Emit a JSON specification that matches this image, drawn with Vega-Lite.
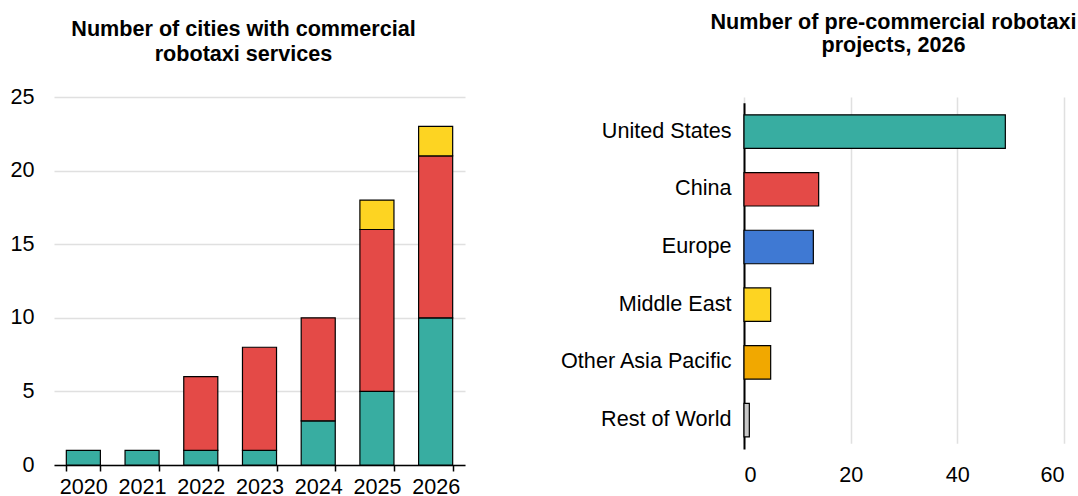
{
  "$schema": "https://vega.github.io/schema/vega-lite/v6.json",
  "background": "white",
  "padding": {"left": 9, "top": 12, "right": 0, "bottom": 0},
  "bounds": "flush",
  "spacing": 279,
  "config": {
    "font": "Liberation Sans",
    "view": {"stroke": null},
    "axis": {"labelFont": "Liberation Sans", "labelFontSize": 21.6, "labelColor": "#000000"},
    "title": {"font": "Liberation Sans", "fontSize": 21.6, "fontWeight": "bold", "color": "#000000"}
  },
  "datasets": {
    "cities": [
      {"year": "2020", "region": "United States", "rank": 1, "count": 1},
      {"year": "2021", "region": "United States", "rank": 1, "count": 1},
      {"year": "2022", "region": "United States", "rank": 1, "count": 1},
      {"year": "2022", "region": "China", "rank": 2, "count": 5},
      {"year": "2023", "region": "United States", "rank": 1, "count": 1},
      {"year": "2023", "region": "China", "rank": 2, "count": 7},
      {"year": "2024", "region": "United States", "rank": 1, "count": 3},
      {"year": "2024", "region": "China", "rank": 2, "count": 7},
      {"year": "2025", "region": "United States", "rank": 1, "count": 5},
      {"year": "2025", "region": "China", "rank": 2, "count": 11},
      {"year": "2025", "region": "Middle East", "rank": 3, "count": 2},
      {"year": "2026", "region": "United States", "rank": 1, "count": 10},
      {"year": "2026", "region": "China", "rank": 2, "count": 11},
      {"year": "2026", "region": "Middle East", "rank": 3, "count": 2}
    ],
    "projects": [
      {"region": "United States", "projects": 49},
      {"region": "China", "projects": 14},
      {"region": "Europe", "projects": 13},
      {"region": "Middle East", "projects": 5},
      {"region": "Other Asia Pacific", "projects": 5},
      {"region": "Rest of World", "projects": 1}
    ]
  },
  "hconcat": [
    {
      "width": 411,
      "height": 368,
      "title": {
        "text": ["Number of cities with commercial", "robotaxi services"],
        "anchor": "middle",
        "dx": -16,
        "lineHeight": 25,
        "baseline": "alphabetic",
        "offset": 3.5
      },
      "data": {"name": "cities"},
      "mark": {"type": "bar", "stroke": "#000000", "strokeWidth": 1.2},
      "encoding": {
        "x": {
          "field": "year",
          "type": "ordinal",
          "scale": {"paddingInner": 0.42, "paddingOuter": 0.21},
          "axis": {
            "title": null,
            "labelAngle": 0,
            "domainColor": "#000000",
            "domainWidth": 1.5,
            "tickColor": "#000000",
            "tickWidth": 1.5,
            "tickSize": 6,
            "tickBand": "extent",
            "labelPadding": 5,
            "grid": false
          }
        },
        "y": {
          "field": "count",
          "type": "quantitative",
          "stack": "zero",
          "scale": {"domain": [0, 25]},
          "axis": {
            "title": null,
            "values": [0, 5, 10, 15, 20, 25],
            "domain": false,
            "ticks": false,
            "labelPadding": 20,
            "gridColor": "#e0e0e0",
            "gridWidth": 1.5
          }
        },
        "color": {
          "field": "region",
          "type": "nominal",
          "scale": {
            "domain": ["United States", "China", "Europe", "Middle East", "Other Asia Pacific", "Rest of World"],
            "range": ["#38ADA1", "#E44A47", "#3F79D3", "#FDD422", "#F1A800", "#C8C8C8"]
          },
          "legend": null
        },
        "order": {"field": "rank", "type": "quantitative", "sort": "ascending"}
      }
    },
    {
      "width": 320,
      "height": 352,
      "title": {
        "text": ["Number of pre-commercial robotaxi", "projects, 2026"],
        "anchor": "middle",
        "dx": -10.5,
        "lineHeight": 23,
        "baseline": "alphabetic",
        "offset": 23
      },
      "data": {"name": "projects"},
      "mark": {"type": "bar", "stroke": "#000000", "strokeWidth": 1.2},
      "encoding": {
        "y": {
          "field": "region",
          "type": "nominal",
          "sort": null,
          "scale": {"range": [5.7, 352], "paddingInner": 0.42, "paddingOuter": 0.21},
          "axis": {
            "title": null,
            "domainColor": "#000000",
            "domainWidth": 2,
            "ticks": false,
            "labelPadding": 13,
            "grid": false
          }
        },
        "x": {
          "field": "projects",
          "type": "quantitative",
          "scale": {"domain": [0, 60]},
          "axis": {
            "title": null,
            "values": [0, 20, 40, 60],
            "domain": false,
            "ticks": false,
            "labelPadding": 15,
            "gridColor": "#e0e0e0",
            "gridWidth": 1.5
          }
        },
        "color": {
          "field": "region",
          "type": "nominal",
          "scale": {
            "domain": ["United States", "China", "Europe", "Middle East", "Other Asia Pacific", "Rest of World"],
            "range": ["#38ADA1", "#E44A47", "#3F79D3", "#FDD422", "#F1A800", "#C8C8C8"]
          },
          "legend": null
        }
      }
    }
  ]
}
